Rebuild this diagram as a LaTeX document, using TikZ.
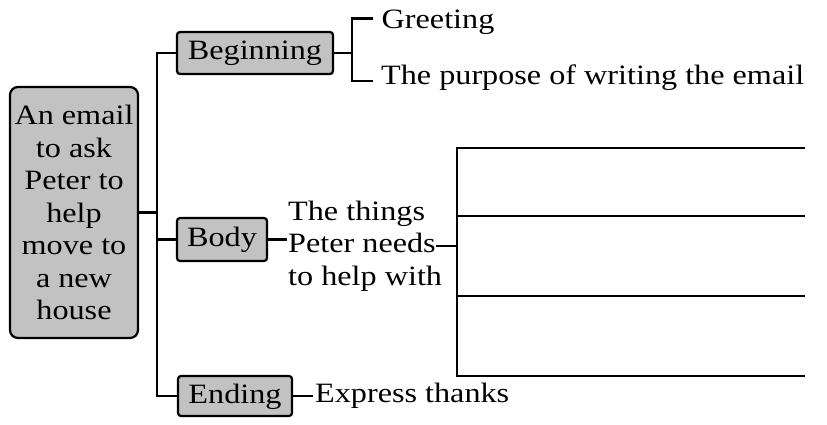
\documentclass[tikz,border=0pt]{standalone}
\usepackage{fontspec}
\setmainfont{Liberation Serif}
\newfontfamily\stretchedserif{Liberation Serif}[FakeStretch=1.15]
\begin{document}
\begin{tikzpicture}[x=1pt,y=-1pt,
  every node/.style={font=\stretchedserif\fontsize{28}{32.5}\selectfont, text=black},
  conn/.style={draw=black, line width=2.2pt},
  boxstyle/.style={draw=black, line width=2.2pt, fill=black!24, rounded corners=3pt,
    inner sep=0pt, text height=20pt, text depth=6pt},
  mainbox/.style={draw=black, line width=2.2pt, fill=black!24, rounded corners=8pt,
    inner sep=0pt, align=center, minimum width=128pt, minimum height=251pt},
  label/.style={inner sep=2pt}
]
\useasboundingbox (0,0) rectangle (827,425);

% main box
\node[mainbox] (main) at (74,212.5) {An email\\to ask\\Peter to\\help\\move to\\a new\\house};

% section boxes
\node[boxstyle, minimum width=156pt, minimum height=42pt] (beg) at (255,53) {Beginning};
\node[boxstyle, minimum width=90pt, minimum height=43pt] (body) at (222,239.5) {Body};
\node[boxstyle, minimum width=114pt, minimum height=40pt] (end) at (235,396) {Ending};

% trunk
\coordinate (tx) at (157,0);
\draw[conn] (beg.west) -| (end.west -| tx) -- (end.west);
\draw[conn] (main.east) -- (main.east -| tx);
\draw[conn] (body.west) -- (body.west -| tx);

% beginning branch
\node[label, anchor=base west] (gre) at (379.5,29) {Greeting};
\node[label, anchor=base west] (pur) at (379,85) {The purpose of writing the email};
\coordinate (bb) at (352,0);
\coordinate (ga) at (373,18.5);
\coordinate (pa) at (373,81);
\draw[conn] (beg.east) -- (beg.east -| bb);
\draw[conn] (ga) -| (pa -| bb) -- (pa);

% body branch
\node[inner sep=1pt, align=left, anchor=west] (bt) at (287,246) {The things\\Peter needs\\to help with};
\draw[conn] (body.east) -- (body.east -| bt.west);
\coordinate (rb) at (457,0);
\coordinate (r1) at (805,148);
\coordinate (r2) at (805,216);
\coordinate (r3) at (805,296);
\coordinate (r4) at (805,376);
\draw[conn] (r1) -- (r1 -| rb) -- (r4 -| rb) -- (r4);
\draw[conn] (r2 -| rb) -- (r2);
\draw[conn] (r3 -| rb) -- (r3);
\draw[conn] ([xshift=-7pt]bt.east) -- (bt.east -| rb);

% ending branch
\node[label, anchor=base west] (thx) at (313,402.5) {Express thanks};
\draw[conn] (end.east) -- (end.east -| thx.west);
\end{tikzpicture}
\end{document}
